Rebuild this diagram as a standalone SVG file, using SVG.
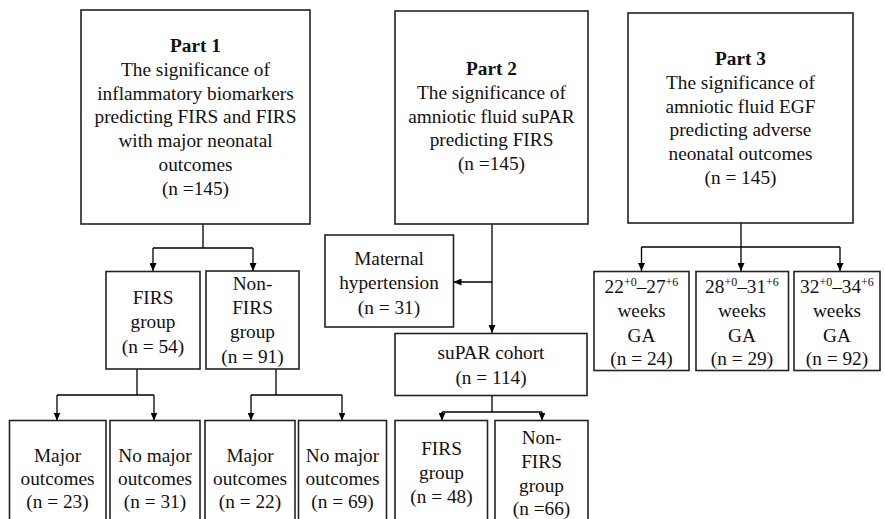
<svg xmlns="http://www.w3.org/2000/svg" width="885" height="519" viewBox="0 0 885 519">
<defs>
<marker id="arr" markerUnits="userSpaceOnUse" markerWidth="8" markerHeight="7" refX="8" refY="3.5" orient="auto">
<path d="M0,0 L8,3.5 L0,7 z" fill="#000"/>
</marker>
<style>
.box{fill:#fff;stroke:#222;stroke-width:1.6}
.t{font-family:"Liberation Serif","Times New Roman",serif;font-size:19.3px;fill:#111;text-anchor:middle}
.b{font-weight:bold}
.ln{fill:none;stroke:#000;stroke-width:1.3}
.ar{fill:none;stroke:#000;stroke-width:1.3;marker-end:url(#arr)}
.sup{font-size:12px}
</style>
</defs>
<rect width="885" height="519" fill="#fff"/>

<g id="connectors">
<path class="ln" d="M203,224 V248 M153,248 H253"/>
<path class="ar" d="M153,248 V271"/>
<path class="ar" d="M253,248 V271"/>
<path class="ln" d="M137,369 V395 M57,395 H154"/>
<path class="ar" d="M57,395 V420.5"/>
<path class="ar" d="M154,395 V420.5"/>
<path class="ln" d="M276,369 V395 M251,395 H342"/>
<path class="ar" d="M251,395 V420.5"/>
<path class="ar" d="M342,395 V420.5"/>
<path class="ar" d="M492,224 V333"/>
<path class="ar" d="M492,282 H453.5"/>
<path class="ln" d="M492,396 V412 M442,412 H542"/>
<path class="ar" d="M442,412 V420.5"/>
<path class="ar" d="M542,412 V420.5"/>
<path class="ln" d="M741,223 V247 M641.5,247 H840"/>
<path class="ar" d="M641.5,247 V271"/>
<path class="ar" d="M741,247 V271"/>
<path class="ar" d="M840,247 V271"/>
</g>

<g id="part1">
<rect class="box" x="81" y="10" width="229" height="214"/>
<text class="t b" x="195.5" y="52">Part 1</text>
<text class="t" x="195.5" y="75.8">The significance of</text>
<text class="t" x="195.5" y="99.6">inflammatory biomarkers</text>
<text class="t" x="195.5" y="123.4">predicting FIRS and FIRS</text>
<text class="t" x="195.5" y="147.2">with major neonatal</text>
<text class="t" x="195.5" y="171">outcomes</text>
<text class="t" x="195.5" y="194.8">(n =145)</text>
</g>

<g id="part2">
<rect class="box" x="395" y="11" width="193" height="213"/>
<text class="t b" x="491.5" y="75">Part 2</text>
<text class="t" x="491.5" y="98.8">The significance of</text>
<text class="t" x="491.5" y="122.6">amniotic fluid suPAR</text>
<text class="t" x="491.5" y="146.4">predicting FIRS</text>
<text class="t" x="491.5" y="170.2">(n =145)</text>
</g>

<g id="part3">
<rect class="box" x="628" y="13" width="225" height="210"/>
<text class="t b" x="740.5" y="65">Part 3</text>
<text class="t" x="740.5" y="88.8">The significance of</text>
<text class="t" x="740.5" y="112.6">amniotic fluid EGF</text>
<text class="t" x="740.5" y="136.4">predicting adverse</text>
<text class="t" x="740.5" y="160.2">neonatal outcomes</text>
<text class="t" x="740.5" y="184">(n = 145)</text>
</g>

<g id="firs1">
<rect class="box" x="106" y="271.5" width="94" height="97.5"/>
<text class="t" x="153" y="304">FIRS</text>
<text class="t" x="153" y="327.5">group</text>
<text class="t" x="153" y="352.5">(n = 54)</text>
</g>

<g id="nonfirs1">
<rect class="box" x="206" y="271" width="93" height="98"/>
<text class="t" x="252.5" y="290">Non-</text>
<text class="t" x="252.5" y="314">FIRS</text>
<text class="t" x="252.5" y="338">group</text>
<text class="t" x="252.5" y="363">(n = 91)</text>
</g>

<g id="major1">
<rect class="box" x="9.5" y="420.5" width="96.5" height="110"/>
<text class="t" x="57.5" y="461.5">Major</text>
<text class="t" x="57.5" y="484.5">outcomes</text>
<text class="t" x="57.5" y="508">(n = 23)</text>
</g>

<g id="nomajor1">
<rect class="box" x="110" y="420.5" width="90" height="110"/>
<text class="t" x="155" y="461.5">No major</text>
<text class="t" x="155" y="484.5">outcomes</text>
<text class="t" x="155" y="508">(n = 31)</text>
</g>

<g id="major2">
<rect class="box" x="205" y="420.5" width="90" height="110"/>
<text class="t" x="250" y="461.5">Major</text>
<text class="t" x="250" y="484.5">outcomes</text>
<text class="t" x="250" y="508">(n = 22)</text>
</g>

<g id="nomajor2">
<rect class="box" x="298.5" y="420.5" width="88" height="110"/>
<text class="t" x="342.5" y="461.5">No major</text>
<text class="t" x="342.5" y="484.5">outcomes</text>
<text class="t" x="342.5" y="508">(n = 69)</text>
</g>

<g id="hypertension">
<rect class="box" x="325" y="235" width="128.5" height="92"/>
<text class="t" x="389" y="265">Maternal</text>
<text class="t" x="389" y="288.5">hypertension</text>
<text class="t" x="389" y="313.5">(n = 31)</text>
</g>

<g id="supar">
<rect class="box" x="395" y="333.5" width="192" height="62"/>
<text class="t" x="491" y="358.5">suPAR cohort</text>
<text class="t" x="491" y="383.5">(n = 114)</text>
</g>

<g id="firs2">
<rect class="box" x="395" y="420.5" width="92.5" height="110"/>
<text class="t" x="441.5" y="455">FIRS</text>
<text class="t" x="441.5" y="478.5">group</text>
<text class="t" x="441.5" y="502.5">(n = 48)</text>
</g>

<g id="nonfirs2">
<rect class="box" x="495" y="420.5" width="93" height="110"/>
<text class="t" x="541.5" y="443.5">Non-</text>
<text class="t" x="541.5" y="467.5">FIRS</text>
<text class="t" x="541.5" y="491.5">group</text>
<text class="t" x="541.5" y="515">(n =66)</text>
</g>

<g id="ga1">
<rect class="box" x="594" y="271.5" width="95" height="99"/>
<text class="t" x="641.5" y="293">22<tspan class="sup" dy="-7">+0</tspan><tspan dy="7">–27</tspan><tspan class="sup" dy="-7">+6</tspan></text>
<text class="t" x="641.5" y="317">weeks</text>
<text class="t" x="641.5" y="341.5">GA</text>
<text class="t" x="641.5" y="365">(n = 24)</text>
</g>

<g id="ga2">
<rect class="box" x="696" y="271.5" width="92.5" height="99"/>
<text class="t" x="742" y="293">28<tspan class="sup" dy="-7">+0</tspan><tspan dy="7">–31</tspan><tspan class="sup" dy="-7">+6</tspan></text>
<text class="t" x="742" y="317">weeks</text>
<text class="t" x="742" y="341.5">GA</text>
<text class="t" x="742" y="365">(n = 29)</text>
</g>

<g id="ga3">
<rect class="box" x="794" y="271.5" width="86" height="99"/>
<text class="t" x="837" y="293">32<tspan class="sup" dy="-7">+0</tspan><tspan dy="7">–34</tspan><tspan class="sup" dy="-7">+6</tspan></text>
<text class="t" x="837" y="317">weeks</text>
<text class="t" x="837" y="341.5">GA</text>
<text class="t" x="837" y="365">(n = 92)</text>
</g>
</svg>
